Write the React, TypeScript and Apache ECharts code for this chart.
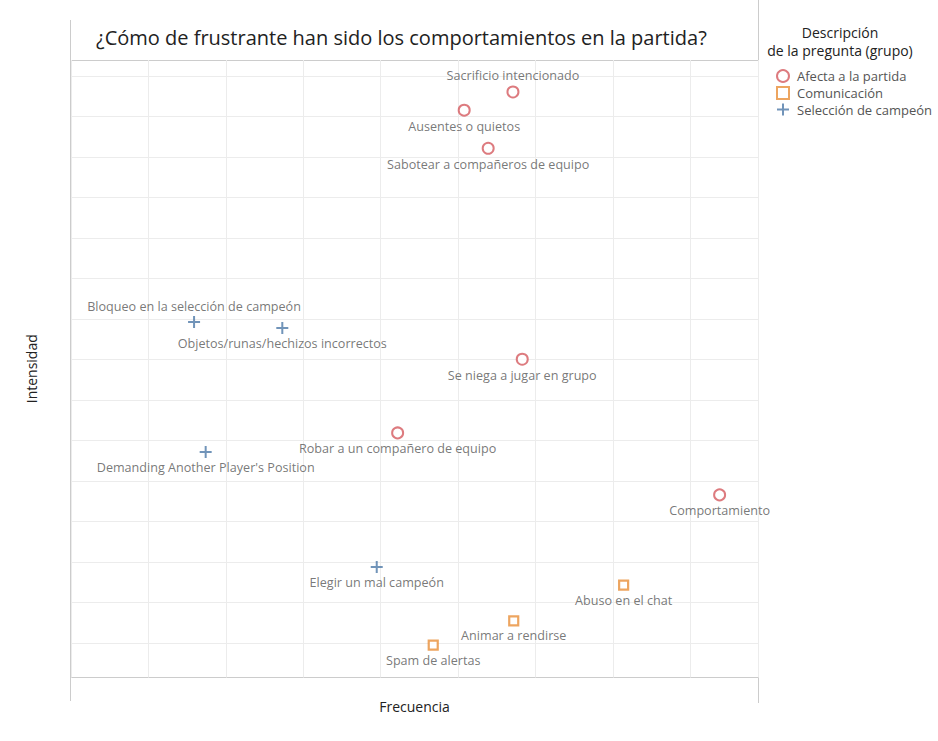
import React, { useEffect, useRef } from "react";
import * as echarts from "echarts";

// Data (x = Frecuencia, y = Intensidad, arbitrary units; gridlines every 1 unit)
const afectaNames = [
  "Sacrificio intencionado",
  "Ausentes o quietos",
  "Sabotear a compañeros de equipo",
  "Se niega a jugar en grupo",
  "Robar a un compañero de equipo",
  "Comportamiento",
];
const afectaX = [5.71, 5.08, 5.39, 5.83, 4.22, 8.38];
const afectaY = [14.46, 14.01, 13.07, 7.86, 6.04, 4.51];

const comunicacionNames = ["Abuso en el chat", "Animar a rendirse", "Spam de alertas"];
const comunicacionX = [7.14, 5.72, 4.68];
const comunicacionY = [2.28, 1.4, 0.8];

const seleccionNames = [
  "Bloqueo en la selección de campeón",
  "Objetos/runas/hechizos incorrectos",
  "Demanding Another Player's Position",
  "Elegir un mal campeón",
];
const seleccionX = [1.59, 2.73, 1.74, 3.95];
const seleccionY = [8.78, 8.63, 5.57, 2.73];

const labelsAbove = ["Sacrificio intencionado", "Bloqueo en la selección de campeón"];

const seriesNames = ["Afecta a la partida", "Comunicación", "Selección de campeón"];
const legendTitle = ["Descripción", "de la pregunta (grupo)"];
const titleText = "¿Cómo de frustrante han sido los comportamientos en la partida?";
const xTitle = "Frecuencia";
const yTitle = "Intensidad";

const FONT = "'Open Sans', sans-serif";
const COLORS = ["#d45a5f", "#e88f38", "#4e79a7"];
const PLUS = "path://M5,0h2v5h5v2h-5v5h-2v-5h-5v-2h5z";

function points(names: string[], xs: number[], ys: number[]) {
  return names.map((n, i) => ({
    name: n,
    value: [xs[i], ys[i]],
    label: { position: labelsAbove.includes(n) ? "top" : "bottom" },
  }));
}

export default function App() {
  const ref = useRef<HTMLDivElement>(null);
  useEffect(() => {
    if (!ref.current) return;
    const chart = echarts.init(ref.current, undefined, { renderer: "svg" });
    const labelCommon = {
      show: true,
      formatter: "{b}",
      distance: 3,
      fontSize: 12.6,
      color: "#555",
      fontFamily: FONT,
    };
    const frame = "#cccccc";
    chart.setOption({
      animation: false,
      textStyle: { fontFamily: FONT },
      title: {
        text: titleText,
        left: 91,
        top: 22,
        textStyle: { fontSize: 20, fontWeight: "normal", color: "#222", fontFamily: FONT },
      },
      legend: {
        data: seriesNames,
        orient: "vertical",
        left: 771,
        top: 64,
        itemGap: 3,
        itemWidth: 12,
        itemHeight: 12,
        textStyle: { fontSize: 13, color: "#555", fontFamily: FONT, padding: [0, 0, 0, 3] },
      },
      grid: [
        { left: 71, right: 180, top: 60, bottom: 63.5 },
        { left: 71, right: 180, top: 76, bottom: 98 },
      ],
      xAxis: [
        {
          gridIndex: 0,
          type: "value",
          min: 0,
          max: 8.876,
          interval: 1,
          axisLine: { show: false },
          axisTick: { show: false },
          axisLabel: { show: false },
          splitLine: { show: true, lineStyle: { color: "#ececec", width: 1 } },
          name: xTitle,
          nameLocation: "middle",
          nameGap: 22,
          nameTextStyle: { fontSize: 14, color: "#222", fontFamily: FONT },
        },
        {
          gridIndex: 1,
          type: "value",
          min: 0,
          max: 8.876,
          show: false,
          splitLine: { show: false },
        },
      ],
      yAxis: [
        {
          gridIndex: 0,
          type: "value",
          min: 0,
          max: 15.25,
          axisLine: { show: false },
          axisTick: { show: false },
          axisLabel: { show: false },
          splitLine: { show: false },
          name: yTitle,
          nameLocation: "middle",
          nameGap: 33,
          nameTextStyle: { fontSize: 14, color: "#222", fontFamily: FONT },
        },
        {
          gridIndex: 1,
          type: "value",
          min: 0,
          max: 14,
          interval: 1,
          axisLine: { show: false },
          axisTick: { show: false },
          axisLabel: { show: false },
          splitLine: { show: true, lineStyle: { color: "#ececec", width: 1 } },
        },
      ],
      series: [
        {
          name: seriesNames[0],
          type: "scatter",
          xAxisIndex: 0,
          yAxisIndex: 0,
          symbol: "circle",
          symbolSize: 11,
          itemStyle: { color: "#ffffff", borderColor: COLORS[0], borderWidth: 2 },
          label: labelCommon,
          data: points(afectaNames, afectaX, afectaY),
          clip: false,
        },
        {
          name: seriesNames[1],
          type: "scatter",
          xAxisIndex: 0,
          yAxisIndex: 0,
          symbol: "rect",
          symbolSize: 9,
          itemStyle: { color: "#ffffff", borderColor: COLORS[1], borderWidth: 2.2 },
          label: labelCommon,
          data: points(comunicacionNames, comunicacionX, comunicacionY),
          clip: false,
        },
        {
          name: seriesNames[2],
          type: "scatter",
          xAxisIndex: 0,
          yAxisIndex: 0,
          symbol: PLUS,
          symbolSize: 12,
          itemStyle: { color: COLORS[2] },
          label: labelCommon,
          data: points(seleccionNames, seleccionX, seleccionY),
          clip: false,
        },
      ],
      graphic: [
        { type: "line", shape: { x1: 70.5, y1: 20, x2: 70.5, y2: 701 }, style: { stroke: frame, lineWidth: 1 } },
        { type: "line", shape: { x1: 758.5, y1: 0, x2: 758.5, y2: 703 }, style: { stroke: frame, lineWidth: 1 } },
        { type: "line", shape: { x1: 70, y1: 60.5, x2: 758, y2: 60.5 }, style: { stroke: frame, lineWidth: 1 } },
        { type: "line", shape: { x1: 70, y1: 677.5, x2: 758, y2: 677.5 }, style: { stroke: frame, lineWidth: 1 } },
        {
          type: "text",
          x: 840,
          y: 32,
          style: { text: legendTitle[0], fill: "#222", font: `14px ${FONT}`, align: "center", verticalAlign: "middle" },
        },
        {
          type: "text",
          x: 840,
          y: 50,
          style: { text: legendTitle[1], fill: "#222", font: `14px ${FONT}`, align: "center", verticalAlign: "middle" },
        },
      ],
    });
    return () => chart.dispose();
  }, []);
  return <div ref={ref} style={{ width: 938, height: 741, position: "absolute", left: 0, top: 0 }} />;
}
